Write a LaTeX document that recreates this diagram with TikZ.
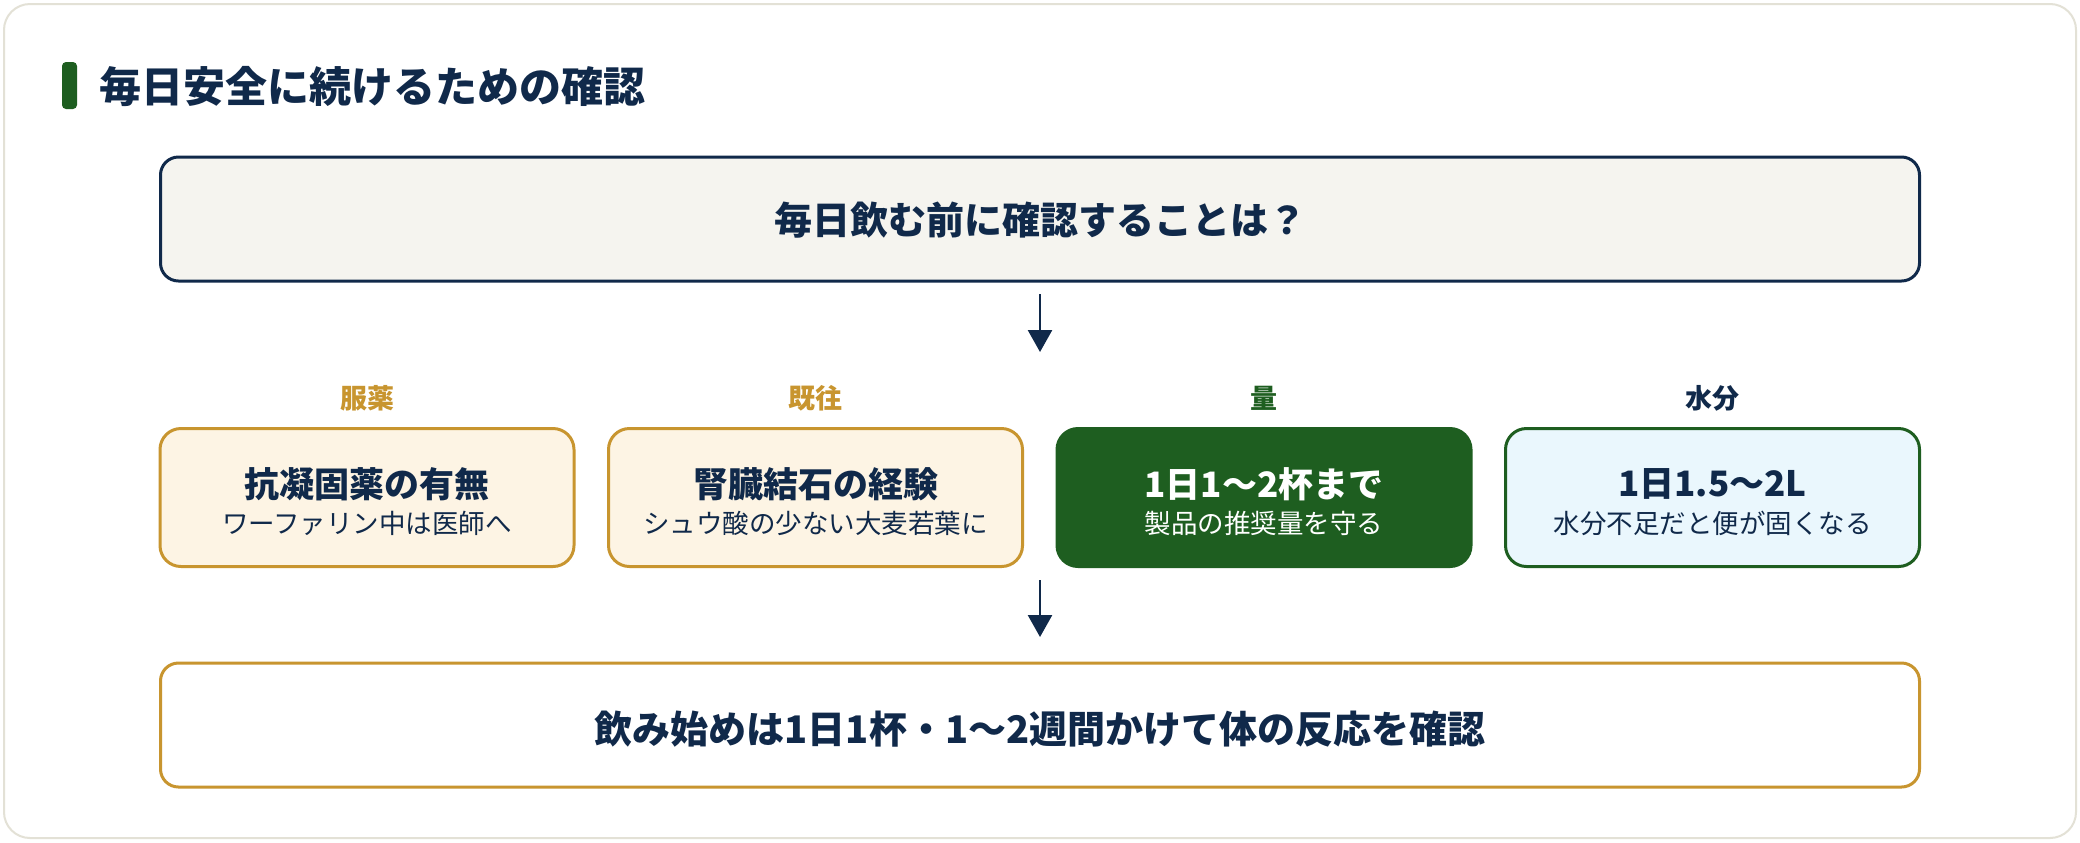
\documentclass[tikz,border=0pt]{standalone}
\usepackage{fontspec}
\newfontfamily\jp{Noto Sans CJK JP}
\usetikzlibrary{arrows.meta}
\definecolor{navy}{HTML}{10294A}
\definecolor{gold}{HTML}{C8952F}
\definecolor{dgreen}{HTML}{1E5E20}
\definecolor{cream}{HTML}{FDF4E4}
\definecolor{paleblue}{HTML}{EAF7FD}
\definecolor{paper}{HTML}{F5F4EF}
\definecolor{cardline}{HTML}{E3E1D6}
\tikzset{
  card/.style={draw=cardline, line width=1pt, fill=white, rounded corners=13pt},
  wide/.style={rectangle, rounded corners=9pt, line width=1.5pt, minimum width=879.5pt, minimum height=62pt, inner sep=0pt},
  smallbox/.style={rectangle, rounded corners=10.5pt, line width=1.5pt, minimum width=207pt, minimum height=69pt, inner sep=0pt},
  goldbox/.style={smallbox, draw=gold, fill=cream},
  greenbox/.style={smallbox, draw=dgreen, fill=dgreen},
  bluebox/.style={smallbox, draw=dgreen, fill=paleblue},
  maintext/.style={font=\jp\bfseries\fontsize{17.5pt}{21pt}\selectfont, inner sep=0pt},
  subtext/.style={font=\jp\fontsize{13.25pt}{16pt}\selectfont, inner sep=0pt},
  labeltext/.style={font=\jp\bfseries\fontsize{13.5pt}{16pt}\selectfont, inner sep=0pt},
  bigtext/.style={font=\jp\bfseries\fontsize{19pt}{23pt}\selectfont, inner sep=0pt, text=navy},
  flowarrow/.style={draw=navy, line width=1.3pt, -{Triangle[width=12pt,length=11pt]}},
}
\begin{document}
\begin{tikzpicture}[x=0.5pt,y=-0.5pt]
\useasboundingbox (0,0) rectangle (2080,842);
\fill[white] (0,0) rectangle (2080,842);
\path[card] (4,4) rectangle (2076,838);
% title
\fill[dgreen, rounded corners=2pt] (62,62) rectangle (77,109);
\node[anchor=west, inner sep=0pt, text=navy, font=\jp\bfseries\fontsize{21pt}{25pt}\selectfont] (title) at (99,87) {毎日安全に続けるための確認};
% top box
\node[wide, draw=navy, fill=paper] (top) at (1040,219) {};
\node[bigtext] (toptext) at (1040,220) {毎日飲む前に確認することは？};
% arrow 1
\coordinate (a1s) at (1040,294);
\coordinate (a1e) at (1040,352);
\draw[flowarrow] (a1s) -- (a1e);
% labels
\node[labeltext, text=gold] (l1) at (367,398) {服薬};
\node[labeltext, text=gold] (l2) at (815.5,398) {既往};
\node[labeltext, text=dgreen] (l3) at (1264,398) {量};
\node[labeltext, text=navy] (l4) at (1712.5,398) {水分};
% boxes
\node[goldbox] (b1) at (367,497.5) {};
\node[goldbox] (b2) at (815.5,497.5) {};
\node[greenbox] (b3) at (1264,497.5) {};
\node[bluebox] (b4) at (1712.5,497.5) {};
\node[maintext, text=navy] (m1) at (367,484) {抗凝固薬の有無};
\node[subtext, text=navy] (s1) at (367,523) {ワーファリン中は医師へ};
\node[maintext, text=navy] (m2) at (815.5,484) {腎臓結石の経験};
\node[subtext, text=navy] (s2) at (815.5,523) {シュウ酸の少ない大麦若葉に};
\node[maintext, text=white] (m3) at (1264,484) {1日1〜2杯まで};
\node[subtext, text=white] (s3) at (1264,523) {製品の推奨量を守る};
\node[maintext, text=navy] (m4) at (1712.5,484) {1日1.5〜2L};
\node[subtext, text=navy] (s4) at (1712.5,523) {水分不足だと便が固くなる};
% arrow 2
\coordinate (a2s) at (1040,580);
\coordinate (a2e) at (1040,637);
\draw[flowarrow] (a2s) -- (a2e);
% bottom box
\node[wide, draw=gold, fill=white] (bottom) at (1040,725) {};
\node[bigtext] (bottomtext) at (1040,729) {飲み始めは1日1杯・1〜2週間かけて体の反応を確認};
\end{tikzpicture}
\end{document}
